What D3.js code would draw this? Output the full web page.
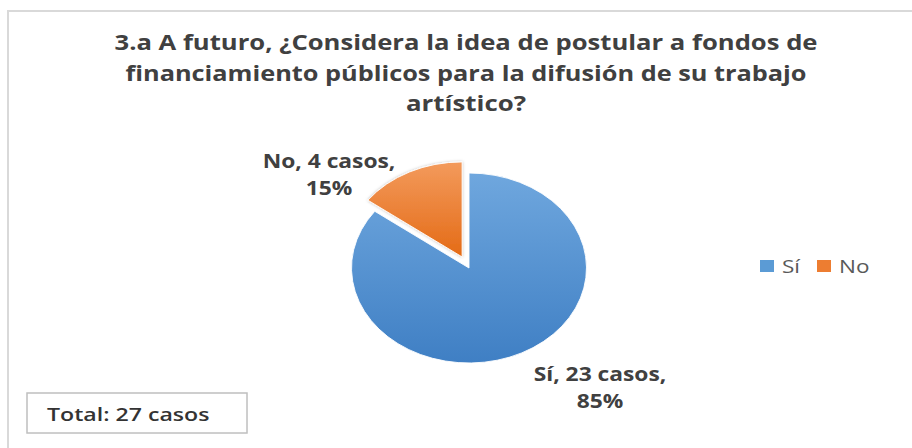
<!DOCTYPE html>
<html>
<head>
<meta charset="utf-8">
<script src="https://cdn.jsdelivr.net/npm/d3@7"></script>
<style>
  body { margin: 0; background: #fff; }
  text { font-family: "Open Sans", sans-serif; }
</style>
</head>
<body>
<div id="chart"></div>
<script>
var width = 912,
  height = 448;

// data
var categories = ["Sí", "No"];
var casos = [23, 4];
var colors = ["#5b9bd5", "#ed7d31"];
var titleLines = [
  "3.a A futuro, ¿Considera la idea de postular a fondos de",
  "financiamiento públicos para la difusión de su trabajo",
  "artístico?"
];
var totalLabel = "Total: 27 casos";

var total = d3.sum(casos);
var pct = d3.format(".0%");

var svg = d3.select("#chart").append("svg")
  .attr("width", width)
  .attr("height", height);

var defs = svg.append("defs");
var grads = [
  ["#6fa7de", "#3f7fc4"],
  ["#f39a5c", "#e46b16"]
];
grads.forEach(function(g, i) {
  var lg = defs.append("linearGradient")
    .attr("id", "grad" + i)
    .attr("x1", 0).attr("y1", 0).attr("x2", 0).attr("y2", 1);
  lg.append("stop").attr("offset", "0%").attr("stop-color", g[0]);
  lg.append("stop").attr("offset", "100%").attr("stop-color", g[1]);
});
defs.append("filter").attr("id", "shadow")
  .attr("x", "-20%").attr("y", "-20%").attr("width", "140%").attr("height", "140%")
  .append("feDropShadow")
  .attr("dx", 0).attr("dy", 0).attr("stdDeviation", 1.5)
  .attr("flood-color", "#000").attr("flood-opacity", 0.25);

// chart frame
svg.append("rect")
  .attr("x", 8).attr("y", 11)
  .attr("width", 920).attr("height", 450)
  .attr("fill", "none")
  .attr("stroke", "#d9d9d9")
  .attr("stroke-width", 2);

// title
var titleWidths = [703, 681, 120];
svg.append("g").selectAll("text")
  .data(titleLines)
  .enter().append("text")
  .attr("x", 466)
  .attr("y", function(d, i) { return 50 + i * 30.5; })
  .attr("text-anchor", "middle")
  .attr("font-size", 20.5)
  .attr("font-weight", "bold")
  .attr("fill", "#404040")
  .attr("textLength", function(d, i) { return titleWidths[i]; })
  .attr("lengthAdjust", "spacingAndGlyphs")
  .text(function(d) { return d; });

// pie (elliptical, stretched horizontally)
var cx = 469, cy = 268, ry = 95, rx = 117.5;
var pie = d3.pie().sort(null).value(function(d) { return d; });
var arc = d3.arc().innerRadius(0).outerRadius(ry);
var slices = pie(casos);

var pieG = svg.append("g")
  .attr("transform", "translate(" + cx + "," + cy + ") scale(" + (rx / ry) + ",1)");

pieG.selectAll("path")
  .data(slices)
  .enter().append("path")
  .attr("d", arc)
  .attr("fill", function(d, i) { return "url(#grad" + i + ")"; })
  .attr("stroke", "#fff")
  .attr("stroke-width", 0.8)
  .attr("filter", function(d, i) { return i === 1 ? "url(#shadow)" : null; })
  .attr("transform", function(d, i) {
    if (i !== 1) return null;
    var a = (d.startAngle + d.endAngle) / 2, off = 12.4;
    return "translate(" + (Math.sin(a) * off) + "," + (-Math.cos(a) * off) + ")";
  });

// data labels (text stretched a bit like the original)
var labelPos = [[600, 381], [329, 168]];
var labels = svg.append("g").selectAll("text")
  .data(slices)
  .enter().append("text")
  .attr("text-anchor", "middle")
  .attr("font-size", 19)
  .attr("font-weight", "bold")
  .attr("fill", "#404040")
  .attr("transform", function(d, i) {
    return "translate(" + labelPos[i][0] + "," + labelPos[i][1] + ") scale(1.2,1)";
  });
labels.append("tspan")
  .attr("x", 0).attr("y", 0)
  .text(function(d, i) { return categories[i] + ", " + d.data + " casos,"; });
labels.append("tspan")
  .attr("x", 0).attr("y", 27)
  .text(function(d) { return pct(d.data / total); });

// legend
var legendX = [760, 817];
var legend = svg.append("g").selectAll("g")
  .data(categories)
  .enter().append("g")
  .attr("transform", function(d, i) { return "translate(" + legendX[i] + ",260)"; });
legend.append("rect")
  .attr("width", 14).attr("height", 12)
  .attr("fill", function(d, i) { return colors[i]; });
legend.append("text")
  .attr("transform", "translate(22,12.5) scale(1.25,1)")
  .attr("font-size", 18)
  .attr("fill", "#595959")
  .text(function(d) { return d; });

// total box
svg.append("rect")
  .attr("x", 27).attr("y", 393)
  .attr("width", 220).attr("height", 40)
  .attr("fill", "#fff")
  .attr("stroke", "#bfbfbf")
  .attr("stroke-width", 1.5);
svg.append("text")
  .attr("transform", "translate(47,421) scale(1.25,1)")
  .attr("font-size", 18.5)
  .attr("font-weight", 600)
  .attr("fill", "#333")
  .text(totalLabel);
</script>
</body>
</html>
